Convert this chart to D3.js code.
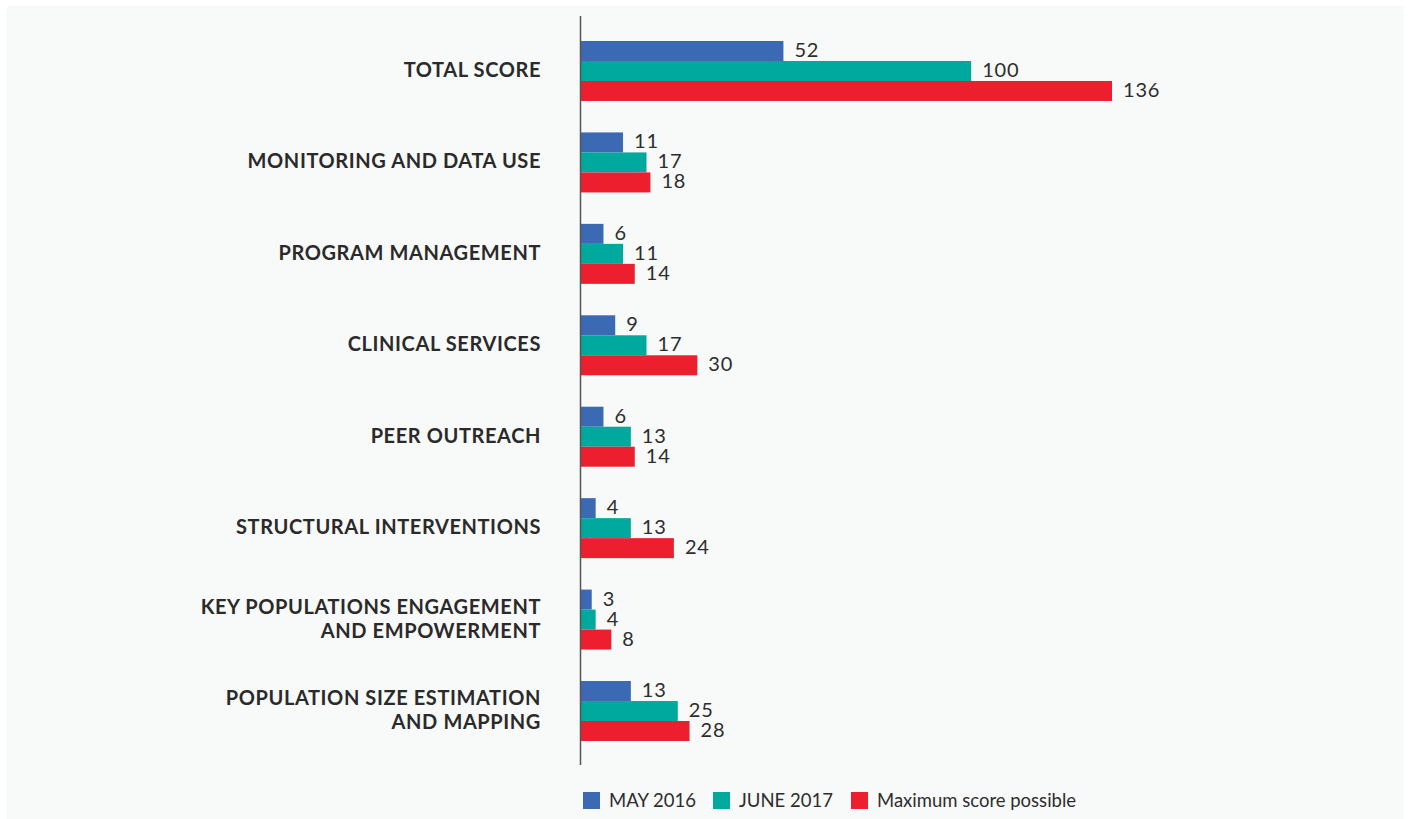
<!DOCTYPE html>
<html>
<head>
<meta charset="utf-8">
<script src="https://cdn.jsdelivr.net/npm/d3@7"></script>
<style>
  body { margin: 0; background: #fff; }
  svg { display: block; font-family: Lato, "Open Sans", sans-serif; }
</style>
</head>
<body>
<svg width="1409" height="819"></svg>
<script>
// categories (top to bottom), each label split into lines
const categories = [
  ["TOTAL SCORE"],
  ["MONITORING AND DATA USE"],
  ["PROGRAM MANAGEMENT"],
  ["CLINICAL SERVICES"],
  ["PEER OUTREACH"],
  ["STRUCTURAL INTERVENTIONS"],
  ["KEY POPULATIONS ENGAGEMENT", "AND EMPOWERMENT"],
  ["POPULATION SIZE ESTIMATION", "AND MAPPING"]
]
const seriesNames = ["MAY 2016", "JUNE 2017", "Maximum score possible"]
const may2016 = [52, 11, 6, 9, 6, 4, 3, 13]
const june2017 = [100, 17, 11, 17, 13, 13, 4, 25]
const maxScore = [136, 18, 14, 30, 14, 24, 8, 28]
const colors = ["#3c69b4", "#00a99d", "#ed1f2e"]

const series = [may2016, june2017, maxScore]
const svg = d3.select("svg")

svg.append("rect")
  .attr("x", 7).attr("y", 6)
  .attr("width", 1397).attr("height", 813)
  .attr("fill", "#f8f9f9")

const keys = categories.map((c, i) => i)

var y = d3.scaleBand()
  .domain(keys)
  .range([41, 741])
  .paddingInner(0.344)
  .paddingOuter(0)

var ySub = d3.scaleBand()
  .domain(d3.range(series.length))
  .range([0, y.bandwidth()])

var x = d3.scaleLinear()
  .domain([0, 136])
  .range([580, 1112])

var groups = svg.selectAll("g.group")
  .data(keys)
  .enter()
  .append("g")
  .attr("class", "group")
  .attr("transform", d => `translate(0,${y(d)})`)

series.forEach((vals, s) => {
  groups.append("rect")
    .attr("x", x(0))
    .attr("y", ySub(s))
    .attr("width", d => x(vals[d]) - x(0))
    .attr("height", ySub.bandwidth())
    .attr("fill", colors[s])
  groups.append("text")
    .attr("x", d => x(vals[d]) + 11)
    .attr("y", ySub(s) + ySub.bandwidth() / 2)
    .attr("dy", "0.3em")
    .attr("font-size", 20)
    .attr("letter-spacing", 0.8)
    .attr("fill", "#2d2d2d")
    .text(d => vals[d])
})

// category labels
groups.append("text")
  .attr("text-anchor", "end")
  .attr("font-size", 20)
  .attr("font-weight", 700)
  .attr("letter-spacing", 0.6)
  .attr("fill", "#2a2a2a")
  .each(function(d) {
    var lines = categories[d]
    var t = d3.select(this)
    lines.forEach((line, i) => {
      t.append("tspan")
        .attr("x", 541)
        .attr("y", y.bandwidth() / 2 + (i - (lines.length - 1) / 2) * 24)
        .attr("dy", "0.3em")
        .text(line)
    })
  })

// axis line
svg.append("line")
  .attr("x1", 580.5).attr("x2", 580.5)
  .attr("y1", 16).attr("y2", 765)
  .attr("stroke", "#555")
  .attr("stroke-width", 1.5)

// legend
var legendX = [583, 713, 851]
var legend = svg.selectAll("g.legend")
  .data(seriesNames)
  .enter()
  .append("g")
  .attr("class", "legend")
  .attr("transform", (d, i) => `translate(${legendX[i]},792)`)
legend.append("rect")
  .attr("width", 17).attr("height", 17)
  .attr("fill", (d, i) => colors[i])
legend.append("text")
  .attr("x", 26).attr("y", 8.5)
  .attr("dy", "0.35em")
  .attr("font-size", 18.5)
  .attr("fill", "#2d2d2d")
  .text(d => d)
</script>
</body>
</html>
